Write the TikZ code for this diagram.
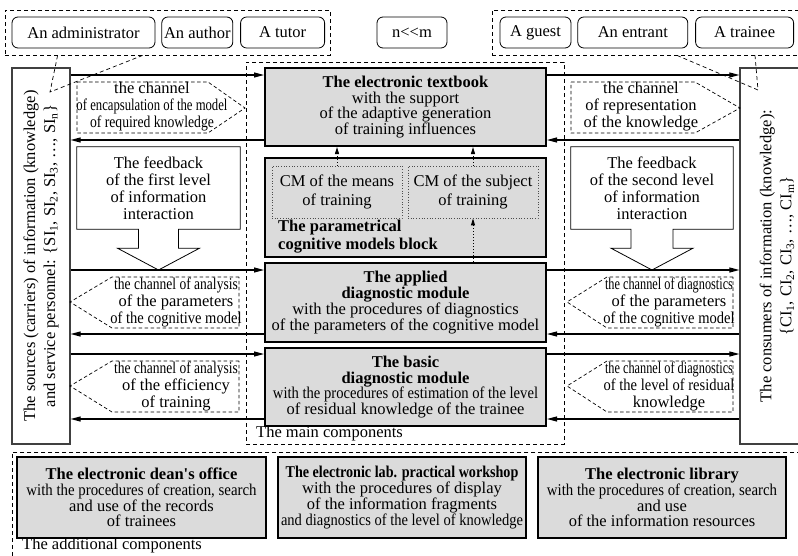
\documentclass[tikz,border=0pt]{standalone}
\usepackage{fontspec}
\setmainfont{Liberation Serif}
\usepackage{graphicx}
\usetikzlibrary{arrows.meta, positioning, calc}

\newcommand\squeeze[2]{\scalebox{#1}[1]{#2}}

\begin{document}
\begin{tikzpicture}[
    x=1pt, y=-1pt,
    every node/.style={font=\fontsize{16.5}{15.7}\selectfont},
    role/.style={draw, rounded corners=6pt, line width=0.8pt, minimum height=31pt, inner sep=0pt},
    group/.style={draw, line width=0.8pt, dash pattern=on 4pt off 3pt},
    column/.style={draw=black!75, line width=1.2pt},
    module/.style={draw, line width=2pt, fill=black!14, align=center, inner sep=0pt},
    cmbox/.style={draw=black!70, dotted, line width=0.7pt, align=center, minimum width=130pt, minimum height=52pt, font=\fontsize{16.5}{19}\selectfont},
    chan/.style={draw, line width=0.7pt, dash pattern=on 3.5pt off 2.5pt},
    chantext/.style={align=center, inner sep=0pt, font=\fontsize{16.5}{17}\selectfont},
    feedback/.style={draw, line width=0.8pt},
    fbtext/.style={align=center, inner sep=0pt, font=\fontsize{16.5}{17}\selectfont},
    flow/.style={draw, line width=1.1pt, -{Triangle[length=10pt, width=5pt]}},
    cmflow/.style={draw, dotted, line width=1pt, -{Triangle[length=7pt, width=4pt]}},
    link/.style={draw, line width=0.7pt, dash pattern=on 4pt off 3pt},
    caption/.style={anchor=west, inner sep=0pt},
    coltext/.style={rotate=90, align=center, font=\fontsize{16.5}{20}\selectfont}
  ]

  \useasboundingbox (0,0) rectangle (798,555);
  \clip (0,0) rectangle (798,555);

  % Roles of the sources
  \node[group, minimum width=325pt, minimum height=45pt] (grpsrc) at (167.5,32.5) {};
  \node[role, minimum width=143pt] (admin) at (83.5,32.5) {An administrator};
  \node[role, minimum width=71pt, right=6pt of admin] (author) {An author};
  \node[role, minimum width=84pt, right=7pt of author] (tutor) {A tutor};
  \node[role, minimum width=70pt] (nm) at (412,32.5) {n<{}<m};

  % Roles of the consumers
  \node[group, minimum width=320pt, minimum height=45pt, anchor=west] (grpcons) at (492,32.5) {};
  \node[role, minimum width=71pt] (guest) at (535.5,32.5) {A guest};
  \node[role, minimum width=110pt, right=6pt of guest] (entrant) {An entrant};
  \node[role, minimum width=98pt, right=7pt of entrant] (trainee) {A trainee};

  % Sources and consumers
  \node[column, minimum width=58pt, minimum height=376pt] (src) at (41,256) {};
  \node[coltext] (srctext) at (src.center) {The sources (carriers) of information (knowledge)\\and service personnel: \{SI\textsubscript{1}, SI\textsubscript{2}, SI\textsubscript{3}, \ldots, SI\textsubscript{n}\}};
  \node[column, minimum width=72pt, minimum height=376pt] (cons) at (776,256) {};
  \node[coltext] (constext) at (777,256) {The consumers of information (knowledge):\\\{CI\textsubscript{1}, CI\textsubscript{2}, CI\textsubscript{3}, \ldots, CI\textsubscript{m}\}};

  \coordinate (srcpt) at (50,92);
  \coordinate (conspt) at (758,90);
  \draw[link] ($(grpsrc.south west)+(53,0)$) -- (srcpt) -- ($(grpsrc.south west)+(138,0)$);
  \draw[link] ($(grpcons.south west)+(185,0)$) -- (conspt) -- ($(grpcons.south west)+(263,0)$);

  % Main components
  \node[group, minimum width=318pt, minimum height=382pt] (maincomp) at (405,253) {};
  \node[caption] (maincap) at (256,434) {The main components};

  \node[module, minimum width=281pt, minimum height=78pt] (textbook) at (405.5,107) {\textbf{The electronic textbook}\\with the support\\of the adaptive generation\\of training influences};
  \node[module, minimum width=281pt, minimum height=99pt] (paramblk) at (405.5,207.5) {};
  \node[cmbox] (cmmeans) at (337,192) {CM of the means\\of training};
  \node[cmbox] (cmsubj) at (473,192) {CM of the subject\\of training};
  \node[anchor=north west, align=left, inner sep=0pt, font=\bfseries\fontsize{16.5}{18}\selectfont] (paramcap) at (278,220) {The parametrical\\cognitive models block};
  \node[module, minimum width=281pt, minimum height=79pt] (applied) at (405.5,302.5) {\textbf{The applied}\\\textbf{diagnostic module}\\with the procedures of diagnostics\\of the parameters of the cognitive model};
  \node[module, minimum width=281pt, minimum height=78pt] (basic) at (405.5,387) {\textbf{The basic}\\\textbf{diagnostic module}\\\squeeze{0.886}{with the procedures of estimation of the level}\\of residual knowledge of the trainee};

  % Cognitive models feed the modules
  \draw[cmflow] (cmmeans.north) -- (cmmeans.north |- textbook.south);
  \draw[cmflow] (cmsubj.north) -- (cmsubj.north |- textbook.south);
  \draw[cmflow] (cmsubj.south |- applied.north) -- (cmsubj.south);

  % Rows of the flows
  \coordinate (r1) at (0,75);
  \coordinate (r2) at (0,140);
  \coordinate (r3) at (0,270);
  \coordinate (r4) at (0,334);
  \coordinate (r5) at (0,354);
  \coordinate (r6) at (0,419);

  \draw[flow] (r1 -| src.east) -- (r1 -| textbook.west);
  \draw[flow] (r1 -| textbook.east) -- (r1 -| cons.west);
  \draw[flow] (r2 -| textbook.west) -- (r2 -| src.east);
  \draw[flow] (r2 -| cons.west) -- (r2 -| textbook.east);
  \draw[flow] (r3 -| src.east) -- (r3 -| applied.west);
  \draw[flow] (r3 -| applied.east) -- (r3 -| cons.west);
  \draw[flow] (r4 -| applied.west) -- (r4 -| src.east);
  \draw[flow] (r4 -| cons.west) -- (r4 -| applied.east);
  \draw[flow] (r5 -| src.east) -- (r5 -| basic.west);
  \draw[flow] (r5 -| basic.east) -- (r5 -| cons.west);
  \draw[flow] (r6 -| basic.west) -- (r6 -| src.east);
  \draw[flow] (r6 -| cons.west) -- (r6 -| basic.east);

  % Channels
  \draw[chan] (77,82) -- (208,82) -- (245,108) -- (208,133) -- (77,133) -- cycle;
  \node[chantext] (chenc) at (152,107) {the channel\\\squeeze{0.77}{of encapsulation of the model}\\\squeeze{0.83}{of required knowledge}};
  \draw[chan] (571,82) -- (695,82) -- (740,108) -- (695,133) -- (571,133) -- cycle;
  \node[chantext] (chrep) at (641,107) {the channel\\of representation\\of the knowledge};

  \draw[chan] (239,277) -- (112,277) -- (70,302) -- (112,328) -- (239,328) -- cycle;
  \node[chantext] (chanparam) at (176,302) {\squeeze{0.82}{the channel of analysis}\\of the parameters\\\squeeze{0.88}{of the cognitive model}};
  \draw[chan] (239,361) -- (112,361) -- (70,386) -- (112,412) -- (239,412) -- cycle;
  \node[chantext] (chaneff) at (176,386) {\squeeze{0.82}{the channel of analysis}\\of the efficiency\\of training};

  \draw[chan] (733,277) -- (607,277) -- (567,302) -- (607,328) -- (733,328) -- cycle;
  \node[chantext] (chdiagparam) at (669,302) {\squeeze{0.745}{the channel of diagnostics}\\of the parameters\\\squeeze{0.88}{of the cognitive model}};
  \draw[chan] (733,361) -- (607,361) -- (567,386) -- (607,412) -- (733,412) -- cycle;
  \node[chantext] (chdiaglevel) at (669,386) {\squeeze{0.745}{the channel of diagnostics}\\\squeeze{0.88}{of the level of residual}\\knowledge};

  % Feedback arrows
  \node[fbtext, minimum width=163pt, minimum height=82pt] (fbfirst) at (158.5,188) {The feedback\\of the first level\\of information\\interaction};
  \draw[feedback] (fbfirst.north west) -- (fbfirst.north east) -- (fbfirst.south east)
    -- ($(fbfirst.south)+(20,0)$) -- ($(fbfirst.south)+(20,19)$) -- ($(fbfirst.south)+(41,19)$)
    -- (fbfirst.south |- r3) -- ($(fbfirst.south)+(-41,19)$) -- ($(fbfirst.south)+(-20,19)$)
    -- ($(fbfirst.south)+(-20,0)$) -- (fbfirst.south west) -- cycle;
  \node[fbtext, minimum width=162pt, minimum height=82pt] (fbsecond) at (652,188) {The feedback\\of the second level\\of information\\interaction};
  \draw[feedback] (fbsecond.north west) -- (fbsecond.north east) -- (fbsecond.south east)
    -- ($(fbsecond.south)+(21,0)$) -- ($(fbsecond.south)+(21,19)$) -- ($(fbsecond.south)+(41,19)$)
    -- (fbsecond.south |- r3) -- ($(fbsecond.south)+(-41,19)$) -- ($(fbsecond.south)+(-21,19)$)
    -- ($(fbsecond.south)+(-21,0)$) -- (fbsecond.south west) -- cycle;

  % Additional components
  \node[group, minimum width=800pt, minimum height=120pt, anchor=north west] (addcomp) at (12,452) {};
  \node[caption] (addcap) at (22,546) {The additional components};
  \node[module, minimum width=249pt, minimum height=81pt] (dean) at (141.5,497.5) {\textbf{The electronic dean\textquotesingle s office}\\\squeeze{0.9}{with the procedures of creation, search}\\and use of the records\\of trainees};
  \node[module, minimum width=248pt, minimum height=81pt] (lab) at (402,497.5) {\squeeze{0.856}{\textbf{The electronic lab. practical workshop}}\\with the procedures of display\\of the information fragments\\\squeeze{0.88}{and diagnostics of the level of knowledge}};
  \node[module, minimum width=248pt, minimum height=81pt] (library) at (662,497.5) {\textbf{The electronic library}\\\squeeze{0.9}{with the procedures of creation, search}\\and use\\of the information resources};

\end{tikzpicture}
\end{document}
